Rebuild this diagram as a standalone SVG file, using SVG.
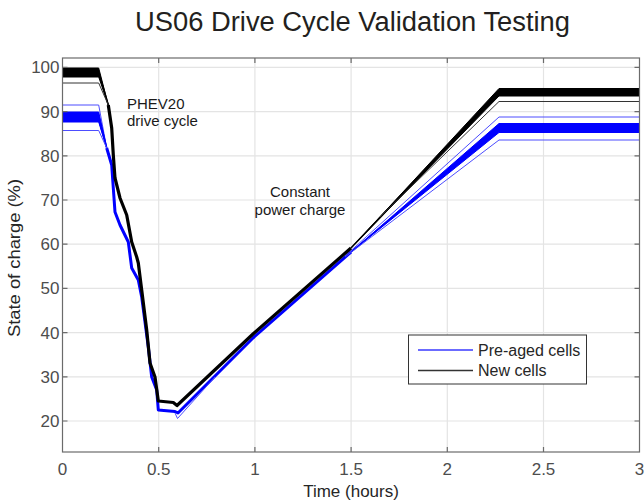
<svg xmlns="http://www.w3.org/2000/svg" width="644" height="502" viewBox="0 0 644 502">
<style>
.grid{stroke:#e4e4e4;stroke-width:1.2;fill:none}
.axis{stroke:#6b6b6b;stroke-width:1.2;fill:none}
.tick{stroke:#6b6b6b;stroke-width:1.2}
.tl{font-family:"Liberation Sans",Arial,sans-serif;font-size:17px;fill:#4d4d4d}
.lab{font-family:"Liberation Sans",Arial,sans-serif;font-size:17px;fill:#262626}
.leg{font-family:"Liberation Sans",Arial,sans-serif;font-size:16px;fill:#262626}
.ann{font-family:"Liberation Sans",Arial,sans-serif;font-size:15px;fill:#1a1a1a}
.bk{stroke:#000;stroke-width:1.6;fill:none;stroke-linejoin:round}
.bkc{stroke:#000;stroke-width:3.2;fill:none;stroke-linejoin:round}
.bkt{stroke:#333;stroke-width:1;fill:none}
.bkb{fill:#000;stroke:#000;stroke-width:1;stroke-linejoin:round}
.bl{stroke:#0000ff;stroke-width:1.6;fill:none;stroke-linejoin:round}
.blc{stroke:#0000ff;stroke-width:3;fill:none;stroke-linejoin:round}
.blt{stroke:#4d4dff;stroke-width:1;fill:none}
.blb{fill:#0000ff;stroke:#0000ff;stroke-width:1;stroke-linejoin:round}
</style>
<rect width="644" height="502" fill="#fff"/>
<g id="title">
<text x="135" y="31" font-family="'Liberation Sans',Arial,sans-serif" font-size="27" fill="#231f20" textLength="435" lengthAdjust="spacingAndGlyphs">US06 Drive Cycle Validation Testing</text>
</g>
<g id="grid">
<path class="grid" d="M158.7,58V452M254.9,58V452M351.1,58V452M447.3,58V452M543.5,58V452"/>
<path class="grid" d="M62.5,421H639.5M62.5,376.8H639.5M62.5,332.6H639.5M62.5,288.4H639.5M62.5,244.2H639.5M62.5,200H639.5M62.5,155.8H639.5M62.5,111.6H639.5M62.5,67.4H639.5"/>
</g>
<g id="series-preaged">
<path class="blt" d="M62.5,105H98.7L106.7,148"/>
<path class="blb" d="M62.5,112H98.7L106.7,148L98.7,122H62.5Z"/>
<path class="bl" d="M62.5,116H98.7L106.7,148M62.5,119H98.7L106.7,148"/>
<path class="blt" d="M62.5,130.5H98.7L106.7,148"/>
<path class="blc" d="M106.7,148L111.7,165L113.3,188L115,212L120,225L128.3,242L131.7,268L138.3,280L141.7,297L148.3,347L151.7,377L156.7,390L158.3,410L175,411.5L178,413L253,338L351,252"/>
<path class="blt" d="M175,413L177.5,418.5L215,377"/>
<path class="blt" d="M345,256L499,117H639.5"/>
<path class="blb" d="M351,252L499,123.5H639.5V132.5H499Z"/>
<path class="bl" d="M351,252L499,128H639.5"/>
<path class="blt" d="M345,257L499,140H639.5"/>
</g>
<g id="series-new">
<path class="bkb" d="M62.5,68H98.7L108.3,105L98.7,77H62.5Z"/>
<path class="bk" d="M62.5,72.5H98.7L108.3,105"/>
<path class="bkt" d="M62.5,83H98.7L108.3,105"/>
<path class="bkc" d="M108.3,105L111.7,128L113.3,155L115,178L120,198L126.7,215L131.7,242L136.7,257L138.3,263L141.7,290L146.7,330L150,363L155,377L158.3,401L173.3,402.5L177,405.5L253,334L351,248"/>
<path class="bkb" d="M351,248L499,88.5H639.5V96H499Z"/>
<path class="bk" d="M351,248L499,92H639.5"/>
<path class="bkt" d="M380,217L499,101.5H639.5"/>
</g>
<g id="axes">
<rect class="axis" x="62.5" y="58" width="577" height="394"/>
<path class="tick" d="M158.7,452v-5M254.9,452v-5M351.1,452v-5M447.3,452v-5M543.5,452v-5M158.7,58v5M254.9,58v5M351.1,58v5M447.3,58v5M543.5,58v5"/>
<path class="tick" d="M62.5,421h5M62.5,376.8h5M62.5,332.6h5M62.5,288.4h5M62.5,244.2h5M62.5,200h5M62.5,155.8h5M62.5,111.6h5M62.5,67.4h5M639.5,421h-5M639.5,376.8h-5M639.5,332.6h-5M639.5,288.4h-5M639.5,244.2h-5M639.5,200h-5M639.5,155.8h-5M639.5,111.6h-5M639.5,67.4h-5"/>
<g class="tl" text-anchor="middle">
<text x="62.5" y="475">0</text><text x="158.7" y="475">0.5</text><text x="254.9" y="475">1</text><text x="351.1" y="475">1.5</text><text x="447.3" y="475">2</text><text x="543.5" y="475">2.5</text><text x="639.5" y="475">3</text>
</g>
<g class="tl" text-anchor="end">
<text x="59.5" y="427">20</text><text x="59.5" y="382.8">30</text><text x="59.5" y="338.6">40</text><text x="59.5" y="294.4">50</text><text x="59.5" y="250.2">60</text><text x="59.5" y="206">70</text><text x="59.5" y="161.8">80</text><text x="59.5" y="117.6">90</text><text x="59.5" y="73.4">100</text>
</g>
<text class="lab" x="351" y="497" text-anchor="middle">Time (hours)</text>
<text class="lab" transform="translate(20,258) rotate(-90)" text-anchor="middle" textLength="158" lengthAdjust="spacingAndGlyphs">State of charge (%)</text>
</g>
<g id="annotations">
<text class="ann" x="127" y="109">PHEV20</text>
<text class="ann" x="127" y="126">drive cycle</text>
<text class="ann" x="300" y="197" text-anchor="middle">Constant</text>
<text class="ann" x="300" y="215" text-anchor="middle">power charge</text>
</g>
<g id="legend">
<rect x="408.5" y="335" width="178" height="49" fill="#fff" stroke="#333" stroke-width="1"/>
<line x1="418" y1="350" x2="473" y2="350" stroke="#3a3aff" stroke-width="1.5"/>
<line x1="418" y1="370.5" x2="473" y2="370.5" stroke="#333" stroke-width="1.5"/>
<text class="leg" x="478" y="355.5">Pre-aged cells</text>
<text class="leg" x="478" y="376">New cells</text>
</g>
</svg>
